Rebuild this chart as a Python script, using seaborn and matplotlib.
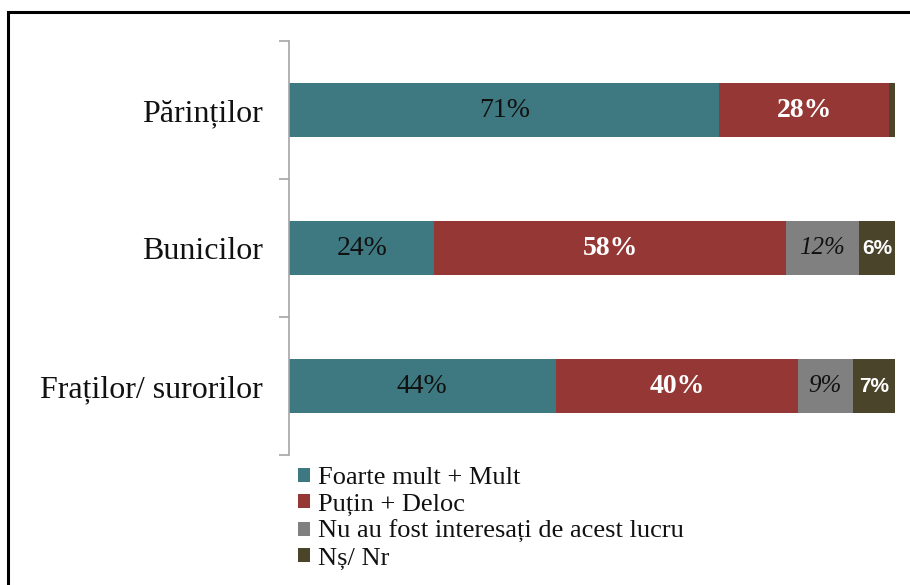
import matplotlib
matplotlib.use("Agg")
import matplotlib.pyplot as plt
import seaborn as sns
import pandas as pd
from matplotlib.patches import Patch, Rectangle

categories = ["Părinților", "Bunicilor", "Fraților/ surorilor"]
series_names = ["Foarte mult + Mult", "Puțin + Deloc",
                "Nu au fost interesați de acest lucru", "Nș/ Nr"]
foarte = [71, 24, 44]
putin = [28, 58, 40]
nu_au = [0, 12, 9]
ns_nr = [1, 6, 7]
colors = ["#3E7880", "#953735", "#808080", "#4A442A"]

sns.set_theme(style="white")
plt.rcParams["font.family"] = ["Liberation Serif", "DejaVu Serif"]

fig = plt.figure(figsize=(9.1, 5.85), dpi=100)
ax = fig.add_axes([289/910, 1-455/585, (895-289)/910, (455-41)/585])

series = [foarte, putin, nu_au, ns_nr]
cums = []
run = [0, 0, 0]
for s in series:
    run = [a + b for a, b in zip(run, s)]
    cums.append(list(run))

for i in reversed(range(4)):
    df = pd.DataFrame({"cat": categories, "val": cums[i]})
    sns.barplot(data=df, x="val", y="cat", color=colors[i], width=0.39,
                saturation=1, ax=ax, orient="h", edgecolor="none")

ax.set_xlim(0, 100)
ax.set_ylim(2.5, -0.5)
ax.set_xlabel("")
ax.set_ylabel("")
ax.set_xticks([])
for side in ["top", "right", "bottom"]:
    ax.spines[side].set_visible(False)
ax.spines["left"].set_color("#A6A6A6")
ax.spines["left"].set_linewidth(1.2)
ax.set_yticks([0, 1, 2])
ax.set_yticklabels(categories, fontsize=23, color="#111111")
ax.set_yticks([-0.5, 0.5, 1.5, 2.5], minor=True)
ax.tick_params(axis="y", which="major", length=0, pad=19)
ax.tick_params(axis="y", which="minor", length=7, color="#A6A6A6", width=1.2, left=True)

styles = [
    dict(color="#111111", fontsize=20, family=["Liberation Serif"]),
    dict(color="white", fontsize=20, fontweight="bold", family=["Liberation Serif"]),
    dict(color="#111111", fontsize=18, fontstyle="italic", family=["Liberation Serif"]),
    dict(color="white", fontsize=15, fontweight="bold", family=["Liberation Sans"]),
]
for j in range(3):
    left = 0
    for i in range(4):
        v = series[i][j]
        if v >= 3:
            ax.text(left + v / 2, j, f"{v}%", ha="center", va="center", **styles[i])
        left += v

handles = [Patch(facecolor=c, edgecolor="none") for c in colors]
fig.legend(handles, series_names, loc="upper left", bbox_to_anchor=(298/910, 1-467/585),
           frameon=False, fontsize=19, handlelength=0.45, handleheight=0.45,
           handletextpad=0.3, labelspacing=0.17, borderpad=0, borderaxespad=0,
           labelcolor="#111111")

fig.patches.append(Rectangle((8/910, -0.05), 1.1, 1 - 12/585 + 0.05,
                             transform=fig.transFigure, fill=False,
                             edgecolor="black", linewidth=2.2))

fig.savefig("out.png", dpi=100)
